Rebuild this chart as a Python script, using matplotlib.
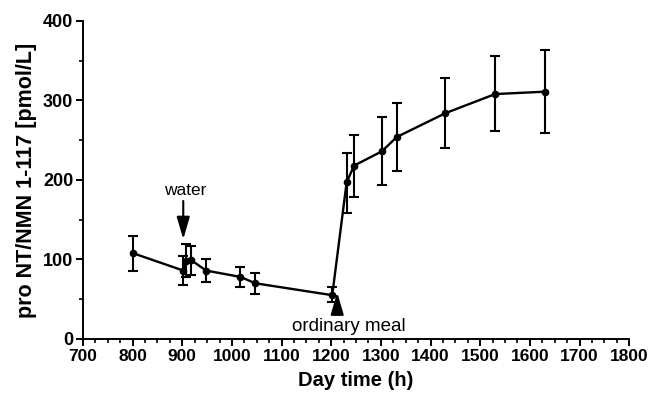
import matplotlib
matplotlib.use("Agg")
import matplotlib.pyplot as plt
from matplotlib.ticker import MultipleLocator

plt.rcParams['font.family'] = ['Liberation Sans', 'DejaVu Sans']

time = [800, 902, 908, 918, 948, 1017, 1047, 1202, 1231, 1246, 1302, 1332, 1430, 1530, 1630]
level = [108, 86, 98, 99, 86, 78, 70, 55, 197, 218, 236, 254, 284, 308, 311]
err_low = [22, 18, 20, 18, 15, 13, 13, 8, 39, 40, 43, 43, 44, 47, 52]
err_high = [22, 18, 21, 18, 15, 13, 13, 10, 37, 38, 43, 43, 44, 48, 52]

xticks = list(range(700, 1801, 100))
yticks = [0, 100, 200, 300, 400]

fig = plt.figure(figsize=(6.48, 3.95), dpi=100)
ax = fig.add_axes([0.128, 0.142, 0.843, 0.805])

ax.errorbar(time, level, yerr=[err_low, err_high], color='black', lw=1.7,
            marker='o', ms=4.5, capsize=3.5, capthick=1.5, elinewidth=1.5)

ax.annotate('', xy=(902, 122), xytext=(902, 177),
            arrowprops=dict(arrowstyle='-|>,head_length=0.75,head_width=0.22',
                            color='black', lw=1.5, mutation_scale=18))
ax.text(905, 187, 'water', ha='center', va='center', fontsize=12.5)
ax.annotate('', xy=(1212, 62), xytext=(1212, 27),
            arrowprops=dict(arrowstyle='-|>,head_length=0.75,head_width=0.22',
                            color='black', lw=1.5, mutation_scale=18))
ax.text(1236, 15, 'ordinary meal', ha='center', va='center', fontsize=13.5)

ax.set_xlim(700, 1800)
ax.set_ylim(0, 400)
ax.set_xticks(xticks)
ax.set_yticks(yticks)
ax.xaxis.set_minor_locator(MultipleLocator(25))
ax.yaxis.set_minor_locator(MultipleLocator(50))
ax.tick_params(which='major', length=5, width=1.4, labelsize=13, pad=2)
ax.tick_params(axis='x', which='major', labelsize=12.5)
ax.tick_params(which='minor', length=3, width=1.2)
for lab in ax.get_xticklabels() + ax.get_yticklabels():
    lab.set_fontweight('bold')
for s in ['top', 'right']:
    ax.spines[s].set_visible(False)
for s in ['left', 'bottom']:
    ax.spines[s].set_linewidth(1.4)

ax.set_xlabel('Day time (h)', fontsize=14.5, fontweight='bold', labelpad=5)
ax.set_ylabel('pro NT/NMN 1-117 [pmol/L]', fontsize=15.5, fontweight='bold', labelpad=4)

fig.savefig('out.png', dpi=100)
